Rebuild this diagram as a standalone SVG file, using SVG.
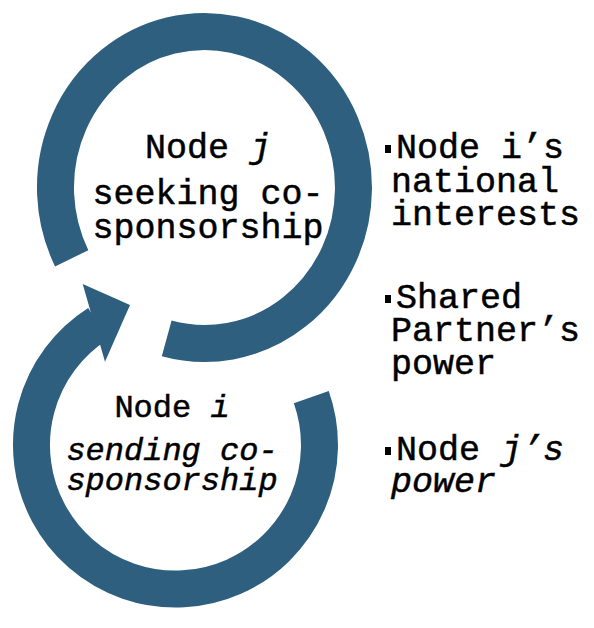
<svg xmlns="http://www.w3.org/2000/svg" width="594" height="628" viewBox="0 0 594 628">
  <style>
    .ring { fill: none; stroke: #2e5f7f; stroke-width: 37; stroke-linecap: butt; }
    .head { fill: #2e5f7f; }
    .t { font-family: "Liberation Mono", "DejaVu Sans Mono", monospace; font-size: 35px; fill: #000; stroke: #000; stroke-width: 0.5; }
    .s { font-size: 32px; }
    .it { font-style: italic; }
    .mid { text-anchor: middle; }
    .bullet { fill: #000; }
  </style>
  <rect width="594" height="628" fill="#fff"/>
  <g id="connectors">
    <path class="ring" d="M 71.7 258.3 A 149 156 0 1 1 166.7 338.4"/>
    <path class="ring" d="M 311.3 397.2 A 144 144 0 1 1 98.1 323.6"/>
    <polygon class="head" points="82.7,284 130,305 105,361.7"/>
  </g>
  <g id="node-j">
    <text class="t mid" x="208" y="158">Node <tspan class="it">j</tspan></text>
    <text class="t mid" x="208" y="204">seeking co-</text>
    <text class="t mid" x="208" y="238">sponsorship</text>
  </g>
  <g id="node-i">
    <text class="t s mid" x="172" y="417">Node <tspan class="it">i</tspan></text>
    <text class="t s mid it" x="172" y="460">sending co-</text>
    <text class="t s mid it" x="172" y="490">sponsorship</text>
  </g>
  <g id="factor-1">
    <rect class="bullet" x="385" y="145" width="6" height="8"/>
    <text class="t" x="396" y="158">Node i’s</text>
    <text class="t" x="391" y="192">national</text>
    <text class="t" x="391" y="225">interests</text>
  </g>
  <g id="factor-2">
    <rect class="bullet" x="385" y="295" width="6" height="8"/>
    <text class="t" x="396" y="308">Shared</text>
    <text class="t" x="391" y="341">Partner’s</text>
    <text class="t" x="391" y="374">power</text>
  </g>
  <g id="factor-3">
    <rect class="bullet" x="385" y="447" width="6" height="8"/>
    <text class="t" x="396" y="460">Node <tspan class="it">j’s</tspan></text>
    <text class="t it" x="391" y="492">power</text>
  </g>
</svg>
